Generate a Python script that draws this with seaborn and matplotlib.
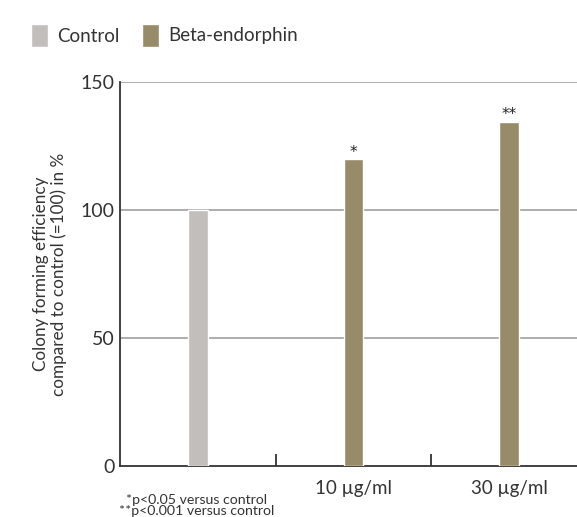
import matplotlib
matplotlib.use("Agg")
import matplotlib.pyplot as plt
import seaborn as sns
import pandas as pd

categories = ["Control", "10 µg/ml", "30 µg/ml"]
groups = ["Control", "Beta-endorphin", "Beta-endorphin"]
values = [100, 120, 134.5]
stars = ["", "*", "**"]
tick_labels = ["", "10 µg/ml", "30 µg/ml"]
yticks = [0, 50, 100, 150]

sns.set_theme(style="white")
plt.rcParams["font.family"] = ["Lato", "DejaVu Sans"]

df = pd.DataFrame({"category": categories, "group": groups, "value": values})
palette = {"Control": "#C2BEBB", "Beta-endorphin": "#A08F62"}

fig = plt.figure(figsize=(5.77, 5.17), dpi=100)
ax = fig.add_axes([120 / 577, 51 / 517, 467 / 577, 384 / 517])

sns.barplot(data=df, x="category", y="value", hue="group", palette=palette,
            dodge=False, width=0.128, ax=ax, zorder=3, legend=True)

ax.set_xlim(-0.5, 2.5)
ax.set_ylim(0, 150)
ax.set_yticks(yticks)
ax.set_yticklabels([str(v) for v in yticks], fontsize=14, color="#333333")
for v in yticks[1:]:
    ax.axhline(v, color="#A0A0A0", lw=1.2, zorder=1)

ax.set_xticks(range(len(categories)))
ax.set_xticklabels(tick_labels, fontsize=13.5, color="#333333")
ax.tick_params(axis="x", which="major", length=0, pad=10)
ax.tick_params(axis="y", which="major", length=0, pad=4)
ax.set_xticks([0.5, 1.5], minor=True)
ax.tick_params(axis="x", which="minor", bottom=True, direction="in", length=9,
               width=1.3, color="#333333")

for s in ["top", "right"]:
    ax.spines[s].set_visible(False)
for s in ["left", "bottom"]:
    ax.spines[s].set_color("#333333")
    ax.spines[s].set_linewidth(1.3)

ax.set_xlabel("")
ax.set_ylabel("Colony forming efficiency\ncompared to control (=100) in %",
              fontsize=12.3, color="#333333", labelpad=10, linespacing=1.05)

for i, (v, s) in enumerate(zip(values, stars)):
    if s:
        ax.text(i, v - 0.3, s, ha="center", va="bottom", fontsize=11,
                family="DejaVu Sans", color="#222222")

handles, labels = ax.get_legend_handles_labels()
ax.legend(handles, labels, loc="upper left", bbox_to_anchor=(14 / 577, 1 - 7 / 517),
          bbox_transform=fig.transFigure, ncol=2, frameon=False, fontsize=13.5,
          handlelength=0.9, handleheight=1.5, handletextpad=0.5, columnspacing=1.2,
          labelcolor="#333333")

fig.text(197 / 577, 1 - 500 / 517, "*p<0.05 versus control", ha="center", va="center",
         fontsize=10.2, color="#333333")
fig.text(197 / 577, 1 - 511 / 517, "**p<0.001 versus control", ha="center", va="center",
         fontsize=10.2, color="#333333")

fig.savefig("out.png", dpi=100)
